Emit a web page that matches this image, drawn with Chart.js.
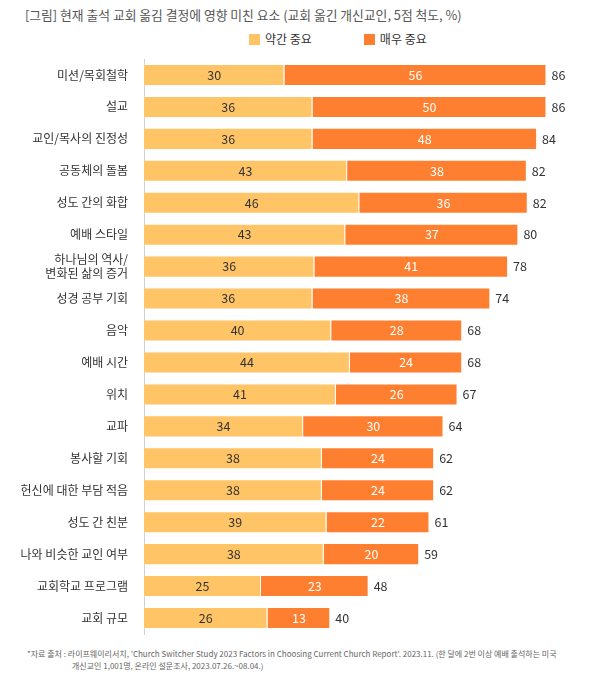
<!DOCTYPE html>
<html>
<head>
<meta charset="utf-8">
<script src="https://cdn.jsdelivr.net/npm/chart.js@4"></script>
<style>
  body { margin: 0; background: #fff; font-family: 'Noto Sans CJK KR', sans-serif; }
  #title { position: absolute; left: 25px; top: 5px; font-size: 12.8px; color: #555; }
  #legend { position: absolute; left: 249px; top: 30px; font-size: 12px; color: #333; }
  #legend span.box { display: inline-block; width: 11px; height: 11px; vertical-align: -1px; margin-right: 5px; }
  #legend span.item { margin-right: 52px; }
  #wrap { position: absolute; left: 0; top: 56px; width: 600px; height: 584px; }
  #footer { position: absolute; left: 27px; top: 648px; font-size: 8px; color: #666; line-height: 12px; }
  #footer .l2 { padding-left: 45px; }
</style>
</head>
<body>
<div id="title">[그림] 현재 출석 교회 옮김 결정에 영향 미친 요소 (교회 옮긴 개신교인, 5점 척도, %)</div>
<div id="legend"><span class="item"><span class="box" style="background:#FFC465"></span>약간 중요</span><span><span class="box" style="background:#FF7F30"></span>매우 중요</span></div>
<div id="wrap"><canvas id="chart"></canvas></div>
<div id="footer">*자료 출처 : 라이프웨이리서치, 'Church Switcher Study 2023 Factors in Choosing Current Church Report'. 2023.11. (한 달에 2번 이상 예배 출석하는 미국<br><span class="l2">개신교인 1,001명, 온라인 설문조사, 2023.07.26.~08.04.)</span></div>
<script>
const categories = ['미션/목회철학', '설교', '교인/목사의 진정성', '공동체의 돌봄', '성도 간의 화합', '예배 스타일',
  ['하나님의 역사/', '변화된 삶의 증거'], '성경 공부 기회', '음악', '예배 시간', '위치', '교파', '봉사할 기회',
  '헌신에 대한 부담 적음', '성도 간 친분', '나와 비슷한 교인 여부', '교회학교 프로그램', '교회 규모'];
// bar lengths (a few estimated with decimals where the printed totals don't add up)
const somewhat = [30, 36, 36, 43.4, 46, 43, 36.4, 36, 40, 44, 41, 34, 38, 38, 39, 38.4, 25, 26.4];
const very = [56, 50, 48, 38.4, 36, 37, 41.4, 38, 28, 24, 26, 30, 24, 24, 22, 20.4, 23, 13.4];
const totals = [86, 86, 84, 82, 82, 80, 78, 74, 68, 68, 67, 64, 62, 62, 61, 59, 48, 40];

const FONT = "'Noto Sans CJK KR', sans-serif";

// value labels inside bars + totals at the end
const barLabels = {
  id: 'barLabels',
  afterDatasetsDraw(chart) {
    const ctx = chart.ctx;
    ctx.save();
    ctx.font = '12.5px ' + FONT;
    ctx.textBaseline = 'middle';
    chart.data.datasets.forEach((ds, i) => {
      const meta = chart.getDatasetMeta(i);
      meta.data.forEach((bar, j) => {
        ctx.fillStyle = i === 0 ? '#333' : '#fff';
        ctx.textAlign = 'center';
        ctx.fillText(Math.round(ds.data[j]), (bar.x + bar.base) / 2, bar.y);
        if (i === chart.data.datasets.length - 1) {
          ctx.fillStyle = '#333';
          ctx.textAlign = 'left';
          ctx.fillText(totals[j], bar.x + 5, bar.y);
        }
      });
    });
    ctx.restore();
  }
};

new Chart(document.getElementById('chart'), {
  type: 'bar',
  data: {
    labels: categories,
    datasets: [
      { label: '약간 중요', data: somewhat, backgroundColor: '#FFC465', borderColor: 'rgba(255,255,255,0.35)', borderWidth: 1 },
      { label: '매우 중요', data: very, backgroundColor: '#FF7F30', borderColor: 'rgba(255,255,255,0.35)', borderWidth: 1 }
    ]
  },
  options: {
    indexAxis: 'y',
    responsive: true,
    maintainAspectRatio: false,
    animation: false,
    layout: { padding: { top: 3, bottom: 6, left: 0, right: 10 } },
    datasets: { bar: { categoryPercentage: 1, barPercentage: 0.69 } },
    plugins: {
      legend: { display: false },
      tooltip: { enabled: false }
    },
    scales: {
      x: { stacked: true, min: 0, max: 95.3, display: false },
      y: {
        stacked: true,
        afterFit: (scale) => {
          scale.width = 144;
          scale.paddingTop = 0;
          scale.paddingBottom = 0;
        },
        grid: { display: true, color: 'transparent', drawTicks: false },
        border: { display: true, color: '#d0d0d0', width: 1 },
        ticks: { padding: 16, color: '#333', font: { family: FONT, size: 12 } }
      }
    }
  },
  plugins: [barLabels]
});
</script>
</body>
</html>
